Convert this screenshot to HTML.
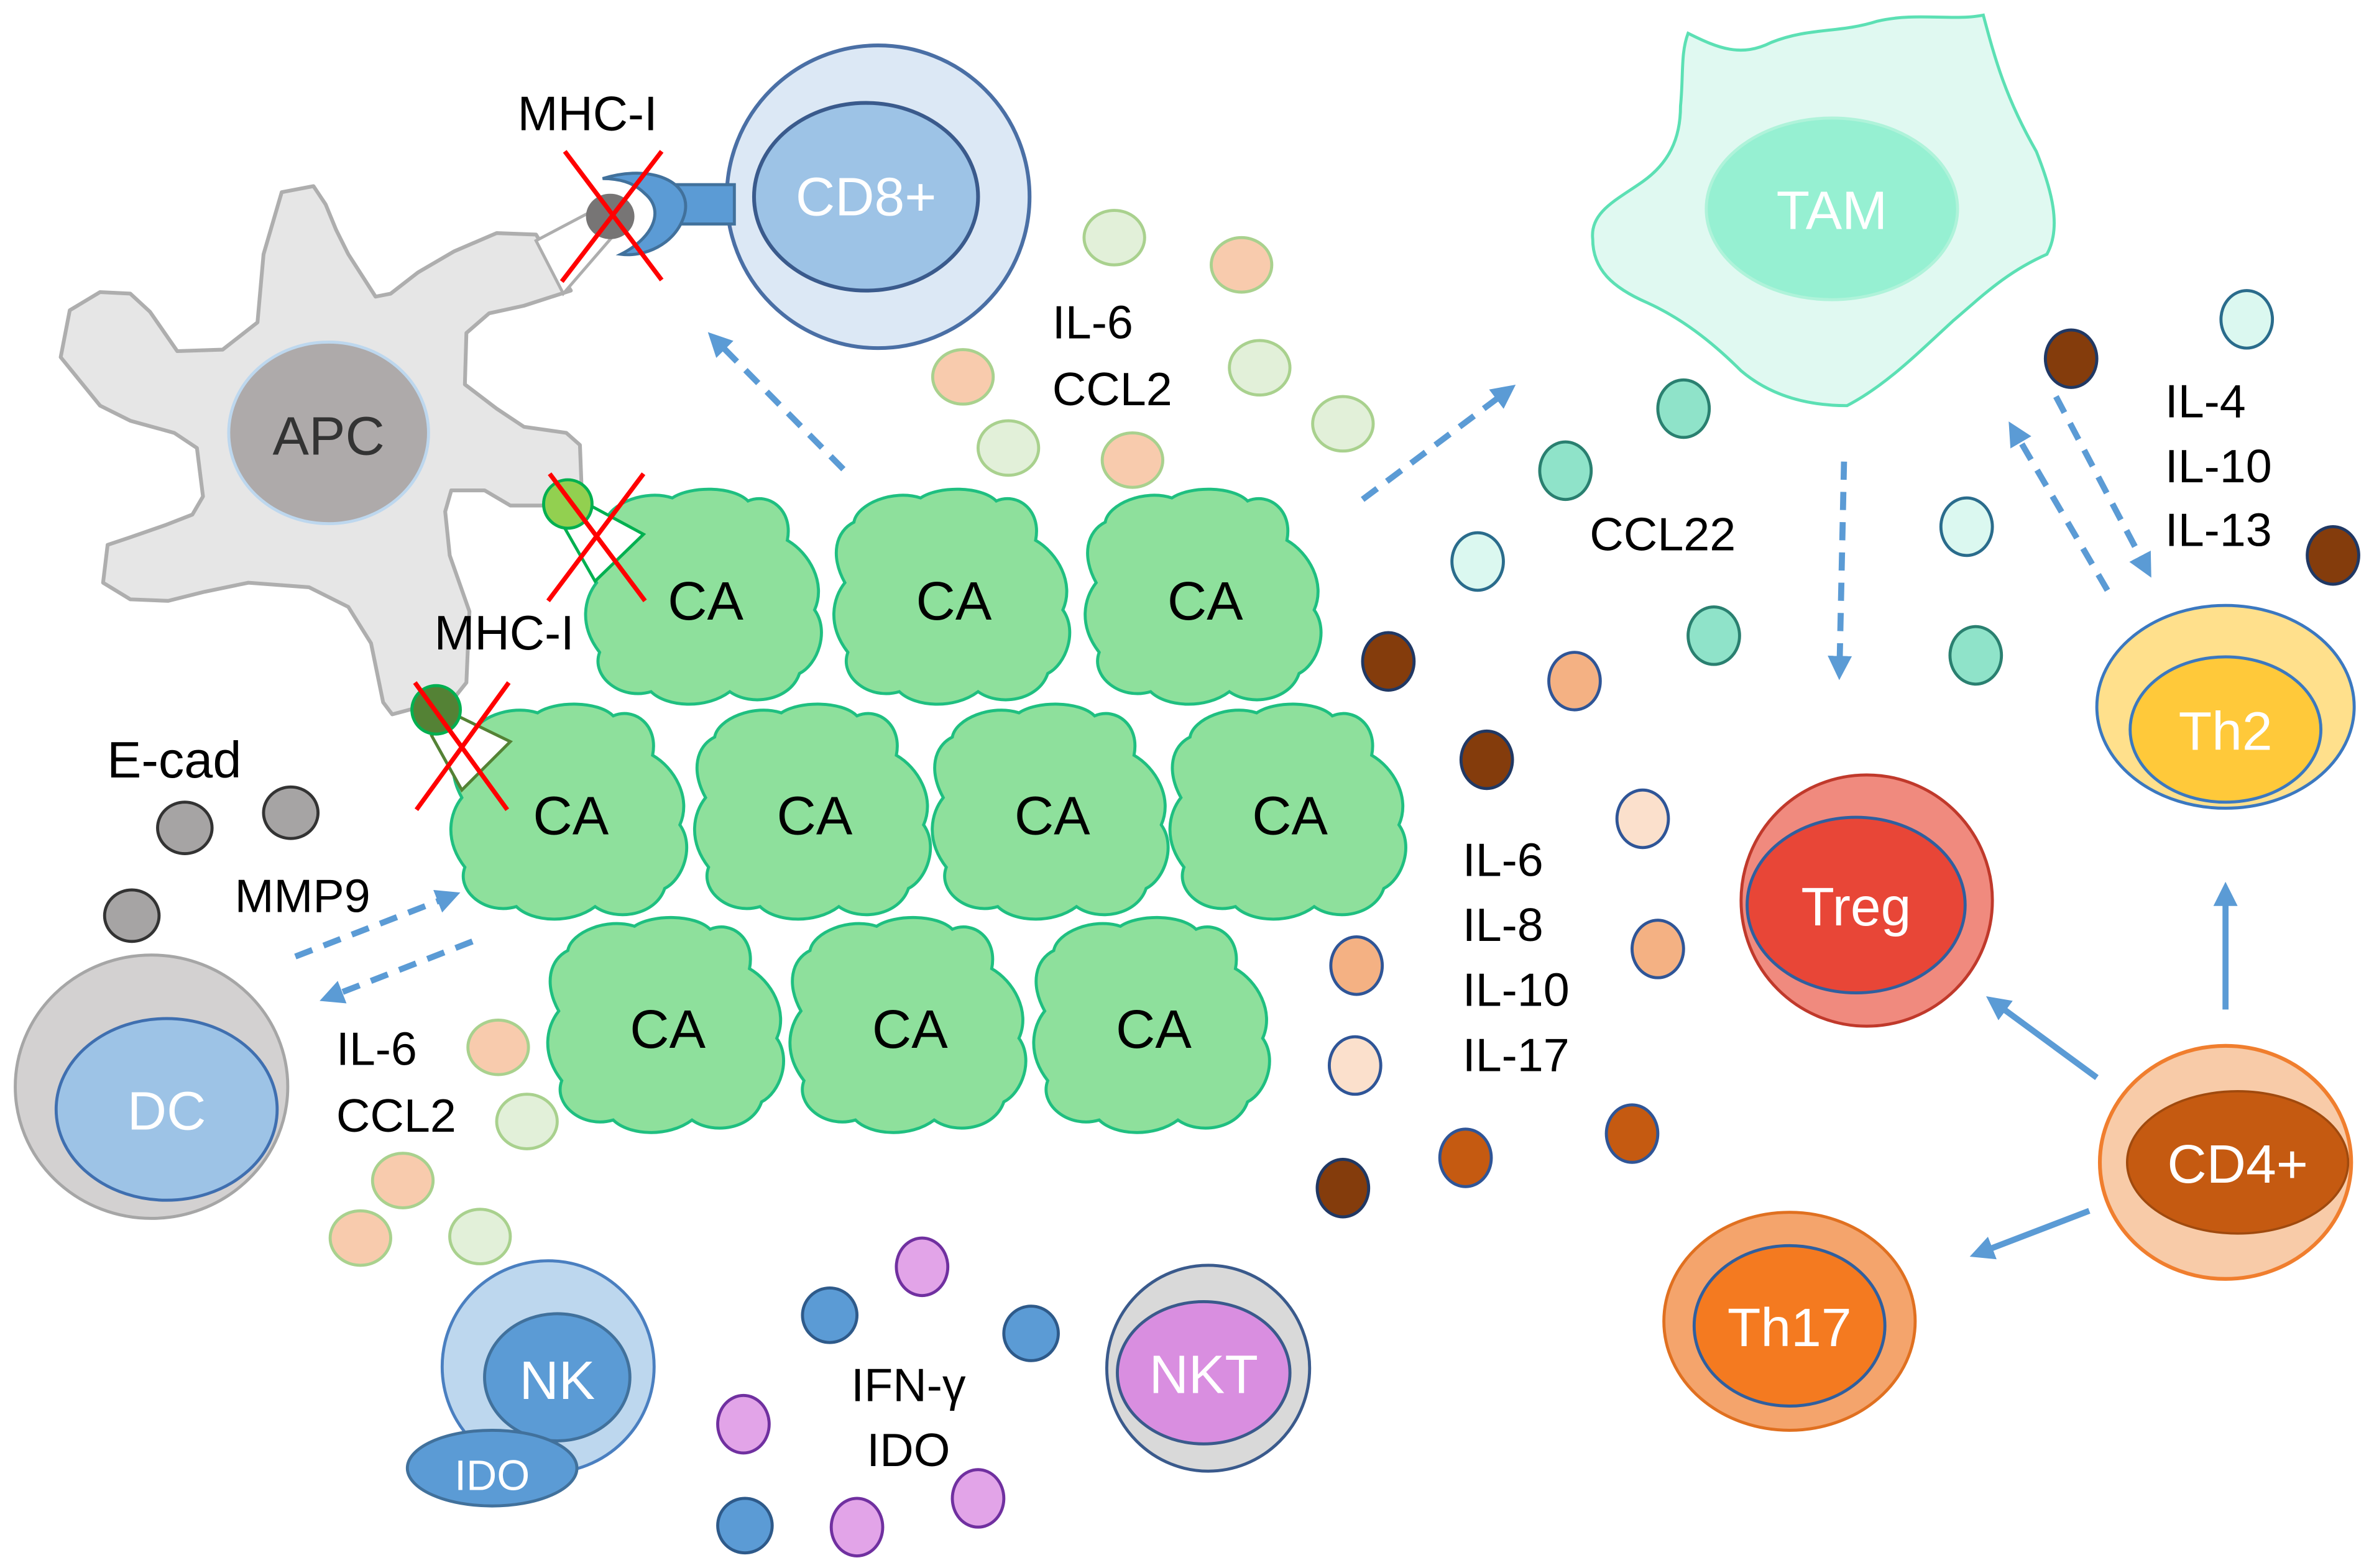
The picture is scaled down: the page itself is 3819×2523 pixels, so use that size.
<!DOCTYPE html>
<html><head><meta charset="utf-8"><style>
html,body{margin:0;padding:0;background:#fff;}
svg{display:block;}
text{font-family:"Liberation Sans",sans-serif;dominant-baseline:central;}
</style></head><body>
<svg width="3819" height="2523" viewBox="0 0 1568 1036" xmlns="http://www.w3.org/2000/svg">
<defs>
<marker id="ah" viewBox="0 0 10 10" refX="6" refY="5" markerWidth="4" markerHeight="4" orient="auto"><path d="M0,0 L10,5 L0,10 z" fill="#5b9bd5"/></marker>
<path id="ca" d="M -66,-50 C -64,-62 -40,-72 -22,-66 C -10,-74 18,-74 28,-64 C 42,-70 58,-58 54,-38 C 68,-30 80,-10 72,8 C 82,22 74,44 62,50 C 56,68 30,72 16,62 C 0,74 -26,72 -36,62 C -56,68 -76,52 -70,36 C -84,18 -80,0 -72,-10 C -82,-28 -78,-44 -66,-50 Z" fill="#8ee09c" stroke="#1fbf80" stroke-width="2"/>
</defs>

<!-- APC -->
<path d="M186,127 L207,123 L215,135 L222,152 L230,168 L248,196 L258,194 L276,180 L300,166 L328,154 L354,155 L377,192 L346,202 L323,207 L308,220 L307,254 L328,270 L346,282 L374,286 L383,294 L384,320 L360,334 L337,334 L320,324 L298,324 L294,338 L297,367 L310,404 L308,451 L300,461 L259,472 L253,464 L245,425 L230,401 L204,388 L164,385 L135,391 L111,397 L86,396 L68,385 L71,360 L86,355 L109,347 L127,340 L134,328 L130,296 L115,286 L86,278 L66,268 L40,236 L46,205 L66,193 L86,194 L99,206 L117,232 L147,231 L170,213 L174,168 Z" fill="#e6e6e6" stroke="#aeaeae" stroke-width="2.5" stroke-linejoin="round"/>
<ellipse cx="217" cy="286" rx="66" ry="60" fill="#aeaaaa" stroke="#bdd7ee" stroke-width="2"/>
<text x="217" y="288" font-size="36" fill="#333" text-anchor="middle">APC</text>

<!-- CD8 -->
<circle cx="580" cy="130" r="100" fill="#dce8f5" stroke="#4a6fa5" stroke-width="2.5"/>
<ellipse cx="572" cy="130" rx="74" ry="62" fill="#9dc3e6" stroke="#3a5a8c" stroke-width="2.5"/>
<text x="572" y="130" font-size="36" fill="#fff" text-anchor="middle">CD8+</text>
<rect x="445" y="122" width="40" height="26" fill="#5b9bd5" stroke="#41719c" stroke-width="2"/>
<path d="M398,118 C430,108 458,120 452,142 C446,162 425,170 410,168 C430,158 440,140 426,128 C418,120 408,118 398,118 Z" fill="#5b9bd5" stroke="#41719c" stroke-width="2"/>
<path d="M354,159 L390,140 L410,150 L372,194 L354,159 Z" fill="#fff" stroke="#aeaeae" stroke-width="2"/>
<ellipse cx="403" cy="143" rx="16" ry="15" fill="#777575"/>
<line x1="373" y1="100" x2="437" y2="185" stroke="#ff0000" stroke-width="3"/>
<line x1="437" y1="100" x2="371" y2="186" stroke="#ff0000" stroke-width="3"/>
<text x="388" y="75" font-size="32" fill="#000" text-anchor="middle">MHC-I</text>

<!-- CA cells -->
<use href="#ca" x="466" y="395"/><use href="#ca" x="630" y="395"/><use href="#ca" x="796" y="395"/>
<use href="#ca" x="377" y="537"/><use href="#ca" x="538" y="537"/><use href="#ca" x="695" y="537"/><use href="#ca" x="852" y="537"/>
<use href="#ca" x="441" y="678"/><use href="#ca" x="601" y="678"/><use href="#ca" x="762" y="678"/>
<g font-size="36" fill="#000" text-anchor="middle">
<text x="466" y="397">CA</text><text x="630" y="397">CA</text><text x="796" y="397">CA</text>
<text x="377" y="539">CA</text><text x="538" y="539">CA</text><text x="695" y="539">CA</text><text x="852" y="539">CA</text>
<text x="441" y="680">CA</text><text x="601" y="680">CA</text><text x="762" y="680">CA</text>
</g>

<!-- MHC mid -->
<path d="M388,333 L425,353 L393,384 L373,349 Z" fill="#fff" stroke="#00b050" stroke-width="2"/>
<circle cx="375" cy="333" r="16" fill="#92d050" stroke="#00b050" stroke-width="2"/>
<line x1="363" y1="313" x2="426" y2="397" stroke="#ff0000" stroke-width="3"/>
<line x1="425" y1="313" x2="362" y2="397" stroke="#ff0000" stroke-width="3"/>
<text x="333" y="418" font-size="32" fill="#000" text-anchor="middle">MHC-I</text>
<!-- MHC lower -->
<path d="M300,472 L337,490 L305,522 L285,486 Z" fill="#fff" stroke="#548235" stroke-width="2"/>
<circle cx="288" cy="469" r="16" fill="#548235" stroke="#00b050" stroke-width="2"/>
<line x1="274" y1="451" x2="335" y2="535" stroke="#ff0000" stroke-width="3"/>
<line x1="336" y1="451" x2="275" y2="535" stroke="#ff0000" stroke-width="3"/>

<!-- TAM -->
<path d="M1115,22 C1135,32 1150,38 1170,28 C1195,18 1215,22 1240,14 C1265,8 1290,14 1310,10 C1318,40 1325,65 1345,100 C1355,125 1362,150 1352,168 C1325,180 1310,195 1290,212 C1265,235 1245,255 1220,268 C1195,268 1170,262 1150,245 C1130,225 1110,210 1088,200 C1065,190 1052,178 1052,158 C1050,140 1068,132 1085,120 C1102,108 1110,92 1110,70 C1112,50 1110,35 1115,22 Z" fill="#e0f9f1" stroke="#5ce0b4" stroke-width="2"/>
<ellipse cx="1210" cy="138" rx="83" ry="60" fill="#96f0d2" stroke="#aff3da" stroke-width="2"/>
<text x="1210" y="139" font-size="36" fill="#fff" text-anchor="middle">TAM</text>

<!-- Th2 -->
<ellipse cx="1470" cy="467" rx="85" ry="67" fill="#ffe08c" stroke="#3b78c0" stroke-width="2"/>
<ellipse cx="1470" cy="482" rx="63" ry="48" fill="#ffc93a" stroke="#3b78c0" stroke-width="2"/>
<text x="1470" y="483" font-size="36" fill="#fff" text-anchor="middle">Th2</text>
<!-- Treg -->
<circle cx="1233" cy="595" r="83" fill="#f08a7e" stroke="#c0392b" stroke-width="2"/>
<ellipse cx="1226" cy="598" rx="72" ry="58" fill="#e84637" stroke="#2f5f9f" stroke-width="2"/>
<text x="1226" y="599" font-size="36" fill="#fff" text-anchor="middle">Treg</text>
<!-- CD4 -->
<ellipse cx="1470" cy="768" rx="83" ry="77" fill="#f8cba8" stroke="#f07e2e" stroke-width="2.5"/>
<ellipse cx="1478" cy="768" rx="73" ry="47" fill="#c55a11" stroke="#a04a0e" stroke-width="1.5"/>
<text x="1478" y="769" font-size="36" fill="#fff" text-anchor="middle">CD4+</text>
<!-- Th17 -->
<ellipse cx="1182" cy="873" rx="83" ry="72" fill="#f4a46c" stroke="#e07020" stroke-width="2"/>
<ellipse cx="1182" cy="876" rx="63" ry="53" fill="#f47a20" stroke="#2f5f9f" stroke-width="2"/>
<text x="1182" y="877" font-size="36" fill="#fff" text-anchor="middle">Th17</text>
<!-- DC -->
<ellipse cx="100" cy="718" rx="90" ry="87" fill="#d3d1d1" stroke="#a6a6a6" stroke-width="2"/>
<ellipse cx="110" cy="733" rx="73" ry="60" fill="#9dc3e6" stroke="#3f6fb0" stroke-width="2"/>
<text x="110" y="734" font-size="36" fill="#fff" text-anchor="middle">DC</text>
<!-- NK -->
<circle cx="362" cy="903" r="70" fill="#bdd7ee" stroke="#4a7fc0" stroke-width="2"/>
<ellipse cx="368" cy="910" rx="48" ry="42" fill="#5b9bd5" stroke="#41719c" stroke-width="2"/>
<text x="368" y="912" font-size="36" fill="#fff" text-anchor="middle">NK</text>
<ellipse cx="325" cy="970" rx="56" ry="25" fill="#5b9bd5" stroke="#41719c" stroke-width="2"/>
<text x="325" y="975" font-size="28" fill="#fff" text-anchor="middle">IDO</text>
<!-- NKT -->
<ellipse cx="798" cy="904" rx="67" ry="68" fill="#d9d9d9" stroke="#3a5a8c" stroke-width="2"/>
<ellipse cx="795" cy="907" rx="57" ry="47" fill="#d98ee0" stroke="#3a5a8c" stroke-width="2"/>
<text x="795" y="908" font-size="36" fill="#fff" text-anchor="middle">NKT</text>

<!-- small circles -->
<g stroke-width="2">
<g fill="#e2f0d9" stroke="#a9d18e"><ellipse cx="736" cy="157" rx="20" ry="18"/><ellipse cx="832" cy="243" rx="20" ry="18"/><ellipse cx="887" cy="280" rx="20" ry="18"/><ellipse cx="666" cy="296" rx="20" ry="18"/><ellipse cx="348" cy="741" rx="20" ry="18"/><ellipse cx="317" cy="817" rx="20" ry="18"/></g>
<g fill="#f8cbad" stroke="#a9d18e"><ellipse cx="820" cy="175" rx="20" ry="18"/><ellipse cx="636" cy="249" rx="20" ry="18"/><ellipse cx="748" cy="304" rx="20" ry="18"/><ellipse cx="329" cy="692" rx="20" ry="18"/><ellipse cx="266" cy="780" rx="20" ry="18"/><ellipse cx="238" cy="818" rx="20" ry="18"/></g>
<g fill="#8fe3c9" stroke="#2a8070"><ellipse cx="1112" cy="270" rx="17" ry="19"/><ellipse cx="1034" cy="311" rx="17" ry="19"/><ellipse cx="1132" cy="420" rx="17" ry="19"/><ellipse cx="1305" cy="433" rx="17" ry="19"/></g>
<g fill="#dbf8f0" stroke="#2a6c8c"><ellipse cx="976" cy="371" rx="17" ry="19"/><ellipse cx="1484" cy="211" rx="17" ry="19"/><ellipse cx="1299" cy="348" rx="17" ry="19"/></g>
<g fill="#843c0c" stroke="#203864"><ellipse cx="917" cy="437" rx="17" ry="19"/><ellipse cx="982" cy="502" rx="17" ry="19"/><ellipse cx="1368" cy="237" rx="17" ry="19"/><ellipse cx="1541" cy="367" rx="17" ry="19"/><ellipse cx="887" cy="785" rx="17" ry="19"/></g>
<g fill="#f4b183" stroke="#2f5597"><ellipse cx="1040" cy="450" rx="17" ry="19"/><ellipse cx="896" cy="638" rx="17" ry="19"/><ellipse cx="1095" cy="627" rx="17" ry="19"/></g>
<g fill="#fbe0cc" stroke="#2f5597"><ellipse cx="1085" cy="541" rx="17" ry="19"/><ellipse cx="895" cy="704" rx="17" ry="19"/></g>
<g fill="#c55a11" stroke="#2f5597"><ellipse cx="968" cy="765" rx="17" ry="19"/><ellipse cx="1078" cy="749" rx="17" ry="19"/></g>
<g fill="#a6a4a4" stroke="#333"><ellipse cx="122" cy="547" rx="18" ry="17"/><ellipse cx="192" cy="537" rx="18" ry="17"/><ellipse cx="87" cy="605" rx="18" ry="17"/></g>
<g fill="#5b9bd5" stroke="#2e5a8a"><ellipse cx="548" cy="869" rx="18" ry="18"/><ellipse cx="681" cy="881" rx="18" ry="18"/><ellipse cx="492" cy="1008" rx="18" ry="18"/></g>
<g fill="#e2a4e8" stroke="#7030a0"><ellipse cx="609" cy="837" rx="17" ry="19"/><ellipse cx="491" cy="941" rx="17" ry="19"/><ellipse cx="566" cy="1009" rx="17" ry="19"/><ellipse cx="646" cy="990" rx="17" ry="19"/></g>
</g>

<!-- arrows -->
<g stroke="#5b9bd5" stroke-width="4" fill="none" stroke-dasharray="12,8" marker-end="url(#ah)">
<line x1="557" y1="310" x2="472" y2="224"/>
<line x1="900" y1="330" x2="996" y2="258"/>
<line x1="1218" y1="305" x2="1215" y2="443"/>
<line x1="1392" y1="390" x2="1330" y2="284"/>
<line x1="1358" y1="262" x2="1418" y2="376"/>
<line x1="195" y1="632" x2="298" y2="592"/>
<line x1="312" y1="622" x2="217" y2="659"/>
</g>
<g stroke="#5b9bd5" stroke-width="4" fill="none" marker-end="url(#ah)">
<line x1="1385" y1="712" x2="1317" y2="662"/>
<line x1="1470" y1="667" x2="1470" y2="589"/>
<line x1="1380" y1="800" x2="1307" y2="828"/>
</g>

<!-- labels -->
<g font-size="31" fill="#000">
<text x="695" y="213">IL-6</text><text x="695" y="257">CCL2</text>
<text x="1430" y="265">IL-4</text><text x="1430" y="308">IL-10</text><text x="1430" y="350">IL-13</text>
<text x="1050" y="353">CCL22</text>
<text x="966" y="568">IL-6</text><text x="966" y="611">IL-8</text><text x="966" y="654">IL-10</text><text x="966" y="697">IL-17</text>
<text x="222" y="693">IL-6</text><text x="222" y="737">CCL2</text>
<text x="155" y="592">MMP9</text>
<text x="600" y="915" text-anchor="middle">IFN-γ</text><text x="600" y="958" text-anchor="middle">IDO</text>
</g>
<text x="115" y="502" font-size="34" fill="#000" text-anchor="middle">E-cad</text>
</svg>
</body></html>
